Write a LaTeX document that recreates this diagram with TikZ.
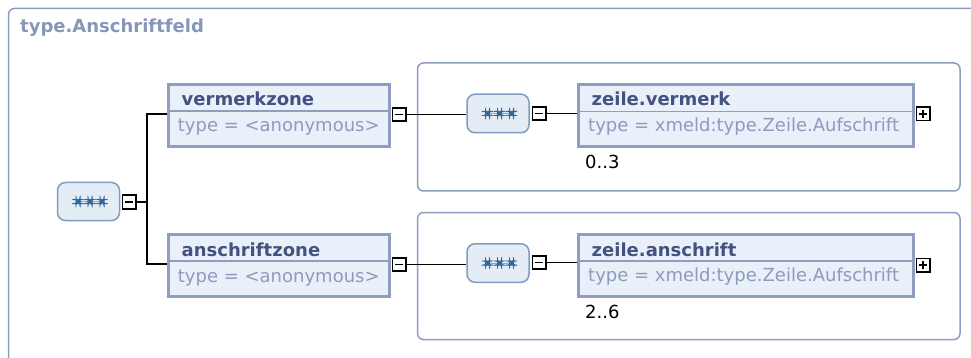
\documentclass[tikz,border=0pt]{standalone}
\usepackage{fontspec}
\setmainfont{DejaVu Sans}
\definecolor{frame}{HTML}{8E9DBF}
\definecolor{elborder}{HTML}{8F9EC0}
\definecolor{elfill}{HTML}{EAF0F9}
\definecolor{namecol}{HTML}{45517F}
\definecolor{typecol}{HTML}{8D9BBD}
\definecolor{titlecol}{HTML}{8797B9}
\definecolor{seqfill}{HTML}{E4ECF6}
\definecolor{seqborder}{HTML}{7F9DC2}
\definecolor{iconfill}{HTML}{3F86BE}
\definecolor{icondraw}{HTML}{2F6898}
\definecolor{iconline}{HTML}{8FA9C4}
\tikzset{
  grpframe/.style={draw=frame, line width=1.5pt, rounded corners=6pt},
  elbox/.style={draw=elborder, fill=elfill, line width=3pt, inner sep=0pt},
  seqbox/.style={draw=seqborder, fill=seqfill, line width=1.5pt, rounded corners=8pt, inner sep=0pt,
    path picture={
      \draw[iconline, line width=0.8pt] ([xshift=-10.5pt]path picture bounding box.center) -- ([xshift=13.5pt]path picture bounding box.center);
      \foreach \dx in {-10.5,1.5,13.5}{
        \filldraw[draw=icondraw, fill=iconfill, line width=0.6pt] ([xshift=\dx pt-2.2pt,yshift=-2.2pt]path picture bounding box.center) rectangle ([xshift=\dx pt+2.2pt,yshift=2.2pt]path picture bounding box.center);
      }
    }},
  minusbox/.style={draw=black, fill=white, line width=1.8pt, minimum size=13.2pt, inner sep=0pt,
    path picture={\draw[line width=1.8pt] ([xshift=-4pt]path picture bounding box.center) -- ([xshift=4pt]path picture bounding box.center);}},
  plusbox/.style={draw=black, fill=white, line width=1.8pt, minimum size=13.2pt, inner sep=0pt,
    path picture={\draw[line width=1.8pt] ([xshift=-4pt]path picture bounding box.center) -- ([xshift=4pt]path picture bounding box.center);
      \draw[line width=1.8pt] ([yshift=-4pt]path picture bounding box.center) -- ([yshift=4pt]path picture bounding box.center);}},
  conn/.style={draw=black, line width=1.8pt},
  nametxt/.style={anchor=base west, inner sep=0pt, text=namecol, font=\fontsize{18}{20}\selectfont\bfseries},
  typetxt/.style={anchor=base west, inner sep=0pt, text=typecol, font=\fontsize{18}{20}\selectfont},
  occtxt/.style={anchor=base west, inner sep=0pt, text=black, font=\fontsize{18}{20}\selectfont},
  sepline/.style={draw=elborder, line width=1.5pt}
}
\begin{document}
\begin{tikzpicture}[x=1pt,y=-1pt]
\useasboundingbox (0,0) rectangle (971,358);
\begin{scope}
\clip (0,0) rectangle (971,358);
\draw[grpframe] (8.5,8.5) rectangle (1000,420);
\end{scope}
\node[anchor=base west, inner sep=0pt, text=titlecol, font=\fontsize{18}{20}\selectfont\bfseries] (title) at (20,33) {type.Anschriftfeld};

% group frames
\draw[grpframe] (417.5,63) rectangle (960,191);
\draw[grpframe] (417.5,212.5) rectangle (960,339.5);

% left sequence
\node[seqbox, minimum width=62pt, minimum height=38pt] (s0) at (88.5,201.5) {};
\node[minusbox] (m0) at (129,202) {};

% vermerkzone
\node[elbox, minimum width=221pt, minimum height=61.5pt] (e1) at (279,115.5) {};
\draw[sepline] (170,111) -- (388,111);
\node[nametxt] (e1n) at (181.5,106) {vermerkzone};
\node[typetxt] (e1t) at (177.7,132) {type = <anonymous>};
\node[minusbox] (m1) at (399,114.5) {};

% anschriftzone
\node[elbox, minimum width=221pt, minimum height=61.5pt] (e2) at (279,265.5) {};
\draw[sepline] (170,261) -- (388,261);
\node[nametxt] (e2n) at (181.5,256) {anschriftzone};
\node[typetxt] (e2t) at (177.7,282) {type = <anonymous>};
\node[minusbox] (m2) at (399,264.5) {};

% tree connectors
\coordinate (fork) at (147,202);
\draw[conn] (m0.east) -- (fork);
\draw[conn] (e1.west |- 0,114) -| (147,202) |- (e2.west |- 0,264);

% group 1
\node[seqbox, minimum width=62pt, minimum height=38.5pt] (s1) at (498,113.5) {};
\node[minusbox] (m3) at (539,113.5) {};
\node[elbox, minimum width=335pt, minimum height=62pt] (e3) at (746,115.5) {};
\draw[sepline] (579,111.5) -- (912,111.5);
\node[nametxt] (e3n) at (591.5,105.5) {zeile.vermerk};
\node[typetxt] (e3t) at (588,131.5) {type = xmeld:type.Zeile.Aufschrift};
\node[plusbox] (p1) at (923,114) {};
\node[occtxt] (o1) at (585,168) {0..3};
\draw[conn] (m1.east) -- (s1.west |- m1.east);
\draw[conn] (m3.east) -- (e3.west |- m3.east);

% group 2
\node[seqbox, minimum width=62pt, minimum height=38.5pt] (s2) at (498,263) {};
\node[minusbox] (m4) at (539,262.5) {};
\node[elbox, minimum width=335pt, minimum height=62pt] (e4) at (746,265) {};
\draw[sepline] (579,261) -- (912,261);
\node[nametxt] (e4n) at (591.5,256.5) {zeile.anschrift};
\node[typetxt] (e4t) at (588,281.5) {type = xmeld:type.Zeile.Aufschrift};
\node[plusbox] (p2) at (923,265) {};
\node[occtxt] (o2) at (585,318) {2..6};
\draw[conn] (m2.east) -- (s2.west |- m2.east);
\draw[conn] (m4.east) -- (e4.west |- m4.east);
\end{tikzpicture}
\end{document}
